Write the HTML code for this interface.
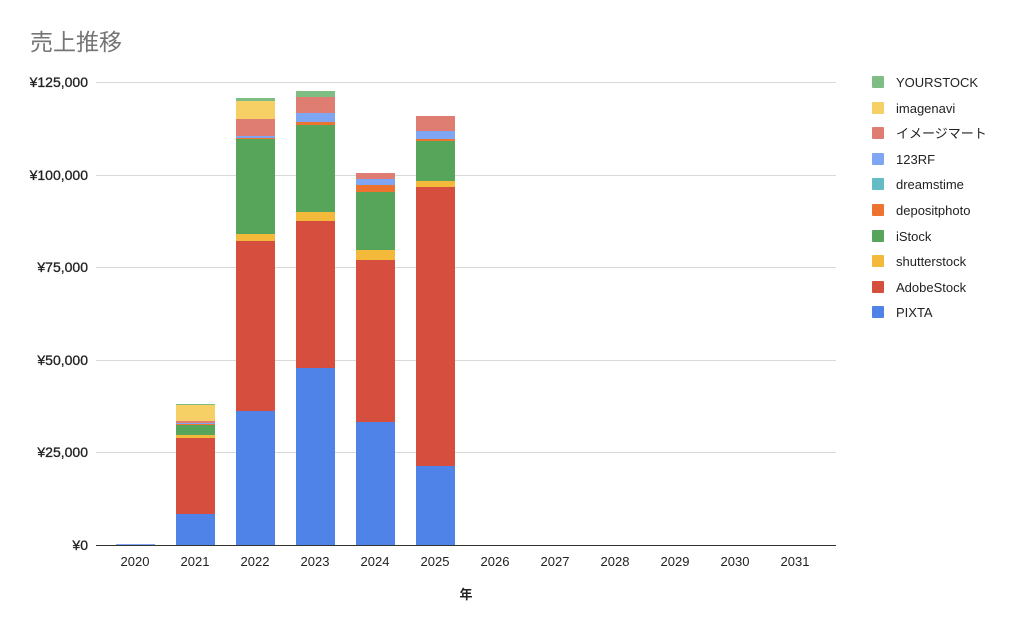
<!DOCTYPE html>
<html><head><meta charset="utf-8"><style>
body{margin:0;background:#fff;width:1024px;height:633px;overflow:hidden}
text{font-family:"Liberation Sans","Noto Sans CJK JP",sans-serif}
</style></head><body>
<svg width="1024" height="633" xmlns="http://www.w3.org/2000/svg">
<text x="30" y="50" font-size="23" fill="#757575">売上推移</text>
<g stroke="#d9d9d9" stroke-width="1">
<line x1="96" x2="836" y1="82.5" y2="82.5"/>
<line x1="96" x2="836" y1="175.5" y2="175.5"/>
<line x1="96" x2="836" y1="267.5" y2="267.5"/>
<line x1="96" x2="836" y1="360.5" y2="360.5"/>
<line x1="96" x2="836" y1="452.5" y2="452.5"/>
</g>
<g font-size="14" fill="#222" text-anchor="end" stroke="#222" stroke-width="0.3">
<text x="88" y="87">¥125,000</text>
<text x="88" y="180">¥100,000</text>
<text x="88" y="272">¥75,000</text>
<text x="88" y="365">¥50,000</text>
<text x="88" y="457">¥25,000</text>
<text x="88" y="550">¥0</text>
</g>
<rect x="116" y="544" width="39" height="1" fill="#7ea6f2"/>
<g>
<rect x="176" y="404" width="39" height="1" fill="#7ebe84"/>
<rect x="176" y="405" width="39" height="16" fill="#f6d064"/>
<rect x="176" y="421" width="39" height="2" fill="#e07d72"/>
<rect x="176" y="423" width="39" height="1" fill="#7ea6f2"/>
<rect x="176" y="424" width="39" height="1" fill="#ec7330"/>
<rect x="176" y="425" width="39" height="10" fill="#57a55a"/>
<rect x="176" y="435" width="39" height="3" fill="#f2b93b"/>
<rect x="176" y="438" width="39" height="76" fill="#d64e3e"/>
<rect x="176" y="514" width="39" height="31" fill="#4f83e8"/>
</g>
<g>
<rect x="236" y="98" width="39" height="3" fill="#7ebe84"/>
<rect x="236" y="101" width="39" height="18" fill="#f6d064"/>
<rect x="236" y="119" width="39" height="17" fill="#e07d72"/>
<rect x="236" y="136" width="39" height="2" fill="#7ea6f2"/>
<rect x="236" y="138" width="39" height="1" fill="#ec7330"/>
<rect x="236" y="139" width="39" height="95" fill="#57a55a"/>
<rect x="236" y="234" width="39" height="7" fill="#f2b93b"/>
<rect x="236" y="241" width="39" height="170" fill="#d64e3e"/>
<rect x="236" y="411" width="39" height="134" fill="#4f83e8"/>
</g>
<g>
<rect x="296" y="91" width="39" height="6" fill="#7ebe84"/>
<rect x="296" y="97" width="39" height="16" fill="#e07d72"/>
<rect x="296" y="113" width="39" height="9" fill="#7ea6f2"/>
<rect x="296" y="122" width="39" height="3" fill="#ec7330"/>
<rect x="296" y="125" width="39" height="87" fill="#57a55a"/>
<rect x="296" y="212" width="39" height="9" fill="#f2b93b"/>
<rect x="296" y="221" width="39" height="147" fill="#d64e3e"/>
<rect x="296" y="368" width="39" height="177" fill="#4f83e8"/>
</g>
<g>
<rect x="356" y="173" width="39" height="6" fill="#e07d72"/>
<rect x="356" y="179" width="39" height="6" fill="#7ea6f2"/>
<rect x="356" y="185" width="39" height="7" fill="#ec7330"/>
<rect x="356" y="192" width="39" height="58" fill="#57a55a"/>
<rect x="356" y="250" width="39" height="10" fill="#f2b93b"/>
<rect x="356" y="260" width="39" height="162" fill="#d64e3e"/>
<rect x="356" y="422" width="39" height="123" fill="#4f83e8"/>
</g>
<g>
<rect x="416" y="116" width="39" height="15" fill="#e07d72"/>
<rect x="416" y="131" width="39" height="8" fill="#7ea6f2"/>
<rect x="416" y="139" width="39" height="2" fill="#ec7330"/>
<rect x="416" y="141" width="39" height="40" fill="#57a55a"/>
<rect x="416" y="181" width="39" height="6" fill="#f2b93b"/>
<rect x="416" y="187" width="39" height="279" fill="#d64e3e"/>
<rect x="416" y="466" width="39" height="79" fill="#4f83e8"/>
</g>
<line x1="96" x2="836" y1="545.5" y2="545.5" stroke="#333" stroke-width="1"/>
<g font-size="13" fill="#222" text-anchor="middle">
<text x="135" y="566">2020</text><text x="195" y="566">2021</text><text x="255" y="566">2022</text>
<text x="315" y="566">2023</text><text x="375" y="566">2024</text><text x="435" y="566">2025</text>
<text x="495" y="566">2026</text><text x="555" y="566">2027</text><text x="615" y="566">2028</text>
<text x="675" y="566">2029</text><text x="735" y="566">2030</text><text x="795" y="566">2031</text>
<text x="466" y="599" font-weight="bold">年</text>
</g>
<g font-size="13" fill="#222">
<rect x="872" y="76" width="12" height="12" rx="1" fill="#7ebe84"/><text x="896" y="87">YOURSTOCK</text>
<rect x="872" y="102" width="12" height="12" rx="1" fill="#f6d064"/><text x="896" y="113">imagenavi</text>
<rect x="872" y="127" width="12" height="12" rx="1" fill="#e07d72"/><text x="896" y="138">イメージマート</text>
<rect x="872" y="153" width="12" height="12" rx="1" fill="#7ea6f2"/><text x="896" y="164">123RF</text>
<rect x="872" y="178" width="12" height="12" rx="1" fill="#63bcc5"/><text x="896" y="189">dreamstime</text>
<rect x="872" y="204" width="12" height="12" rx="1" fill="#ec7330"/><text x="896" y="215">depositphoto</text>
<rect x="872" y="230" width="12" height="12" rx="1" fill="#57a55a"/><text x="896" y="241">iStock</text>
<rect x="872" y="255" width="12" height="12" rx="1" fill="#f2b93b"/><text x="896" y="266">shutterstock</text>
<rect x="872" y="281" width="12" height="12" rx="1" fill="#d64e3e"/><text x="896" y="292">AdobeStock</text>
<rect x="872" y="306" width="12" height="12" rx="1" fill="#4f83e8"/><text x="896" y="317">PIXTA</text>
</g>
</svg>
</body></html>
